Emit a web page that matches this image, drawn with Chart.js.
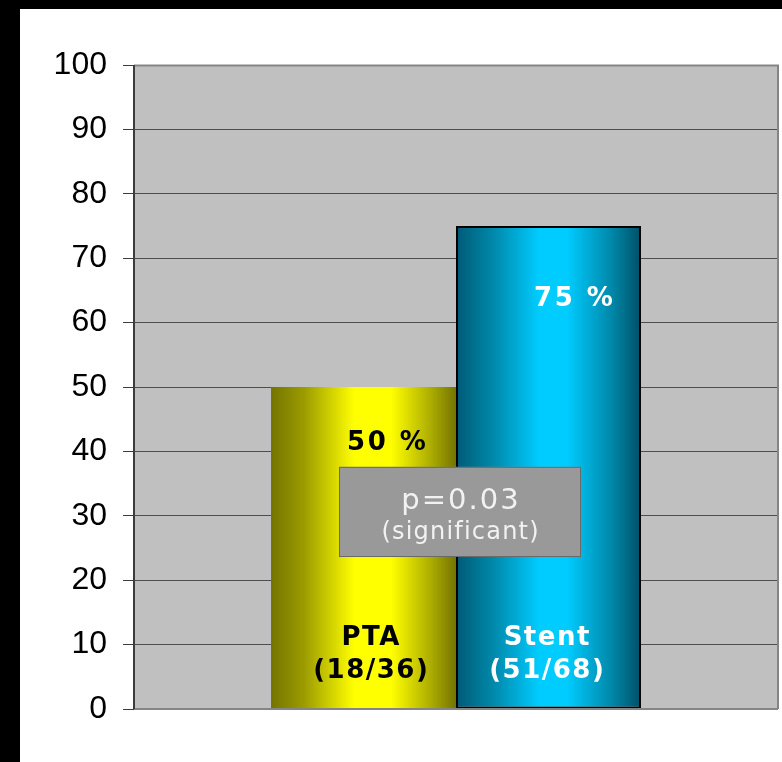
<!DOCTYPE html>
<html>
<head>
<meta charset="utf-8">
<style>
  html, body { margin: 0; padding: 0; background: #fff; }
  #wrap { width: 782px; height: 762px; position: relative; }
</style>
<script src="https://cdn.jsdelivr.net/npm/chart.js@4/dist/chart.umd.min.js"></script>
</head>
<body>
<div id="wrap"><canvas id="c" width="782" height="762"></canvas></div>
<script>
// ---- data ----
const categories = [''];
const seriesNames = ['PTA', 'Stent'];
const ptaValues = [50];
const stentValues = [75];
const valueLabels = ['50 %', '75 %'];
const groupLabels = [['PTA', '(18/36)'], ['Stent', '(51/68)']];
const yMin = 0, yMax = 100, yStep = 10;
const pText = 'p=0.03';
const pNote = '(significant)';

// ---- helpers ----
function hGrad(ctx, x0, x1, stops) {
  const g = ctx.createLinearGradient(x0, 0, x1, 0);
  stops.forEach(s => g.addColorStop(s[0], s[1]));
  return g;
}
const ptaStops = [[0, '#747400'], [0.18, '#9c9c00'], [0.45, '#ffff00'], [0.65, '#ffff00'], [0.87, '#aaaa00'], [1, '#747400']];
const stentStops = [[0, '#005a75'], [0.2, '#0088aa'], [0.45, '#00ccff'], [0.6, '#00ccff'], [0.84, '#0088aa'], [1, '#004f66']];

function spacedText(ctx, text, x, y, spacing) {
  ctx.letterSpacing = spacing + 'px';
  ctx.fillText(text, x + spacing / 2, y);
  ctx.letterSpacing = '0px';
}

const decor = {
  id: 'decor',
  beforeDraw(chart) {
    const { ctx, chartArea: a } = chart;
    ctx.save();
    ctx.fillStyle = '#ffffff';
    ctx.fillRect(0, 0, chart.width, chart.height);
    ctx.fillStyle = '#000000';
    ctx.fillRect(0, 0, chart.width, 9);
    ctx.fillRect(0, 0, 20, chart.height);
    ctx.fillStyle = '#c0c0c0';
    ctx.fillRect(a.left, a.top, a.right - a.left, a.bottom - a.top);
    ctx.restore();
  },
  beforeDatasetsDraw(chart) {
    const stops = [ptaStops, stentStops];
    chart.data.datasets.forEach((ds, i) => {
      const meta = chart.getDatasetMeta(i);
      meta.data.forEach(el => {
        const x0 = el.x - el.width / 2, x1 = el.x + el.width / 2;
        el.options.backgroundColor = hGrad(chart.ctx, x0, x1, stops[i]);
      });
    });
  },
  afterDatasetsDraw(chart) {
    const { ctx, chartArea: a, scales: { y } } = chart;
    ctx.save();
    // frame top/right/bottom
    ctx.strokeStyle = '#858585';
    ctx.lineWidth = 2;
    ctx.beginPath();
    ctx.moveTo(a.left, a.top + 0.5);
    ctx.lineTo(a.right, a.top + 0.5);
    ctx.lineTo(a.right, a.bottom);
    ctx.stroke();
    ctx.beginPath();
    ctx.moveTo(a.left, a.bottom);
    ctx.lineTo(a.right, a.bottom);
    ctx.stroke();
    // left axis line
    ctx.strokeStyle = '#3c3c3c';
    ctx.lineWidth = 2;
    ctx.beginPath();
    ctx.moveTo(a.left, a.top);
    ctx.lineTo(a.left, a.bottom);
    ctx.stroke();

    const ptaEl = chart.getDatasetMeta(0).data[0];
    const stEl = chart.getDatasetMeta(1).data[0];
    ctx.textAlign = 'center';
    ctx.textBaseline = 'middle';
    ctx.font = 'bold 26px "DejaVu Sans"';
    // value labels
    ctx.fillStyle = '#000000';
    spacedText(ctx, valueLabels[0], ptaEl.x + 23, y.getPixelForValue(41.2), 2.5);
    ctx.fillStyle = '#ffffff';
    spacedText(ctx, valueLabels[1], stEl.x + 25, y.getPixelForValue(63.7), 2.5);
    // group labels
    ctx.fillStyle = '#000000';
    spacedText(ctx, groupLabels[0][0], ptaEl.x + 7, y.getPixelForValue(11.0), 1.5);
    spacedText(ctx, groupLabels[0][1], ptaEl.x + 7, y.getPixelForValue(5.8), 1.5);
    ctx.fillStyle = '#ffffff';
    spacedText(ctx, groupLabels[1][0], stEl.x - 2, y.getPixelForValue(11.0), 1.5);
    spacedText(ctx, groupLabels[1][1], stEl.x - 2, y.getPixelForValue(5.8), 1.5);

    // p-value box
    const cx = (ptaEl.x + stEl.x) / 2 + 4;
    const bTop = y.getPixelForValue(37.6), bBot = y.getPixelForValue(23.6);
    const bw = 242;
    ctx.fillStyle = '#999999';
    ctx.fillRect(cx - bw / 2, bTop, bw, bBot - bTop);
    ctx.strokeStyle = '#6a6a6a';
    ctx.lineWidth = 1;
    ctx.strokeRect(cx - bw / 2 + 0.5, bTop + 0.5, bw - 1, bBot - bTop - 1);
    ctx.fillStyle = '#f2f2f2';
    ctx.font = '29px "DejaVu Sans"';
    spacedText(ctx, pText, cx, y.getPixelForValue(32.2), 2);
    ctx.font = '24px "DejaVu Sans"';
    spacedText(ctx, pNote, cx, y.getPixelForValue(27.3), 1.2);
    ctx.restore();
  }
};

new Chart(document.getElementById('c'), {
  type: 'bar',
  data: {
    labels: categories,
    datasets: [
      { label: seriesNames[0], data: ptaValues, borderWidth: 0, categoryPercentage: 0.5745, barPercentage: 1 },
      { label: seriesNames[1], data: stentValues, borderWidth: 2, borderColor: '#000000', borderSkipped: false, categoryPercentage: 0.5745, barPercentage: 1 }
    ]
  },
  options: {
    responsive: false,
    animation: false,
    events: [],
    layout: { padding: { top: 65, right: 4, bottom: 53, left: 0 } },
    plugins: { legend: { display: false }, tooltip: { enabled: false } },
    scales: {
      x: { display: false },
      y: {
        min: yMin, max: yMax,
        afterFit(s) { s.width = 134; },
        ticks: {
          stepSize: yStep,
          color: '#000000',
          padding: 16,
          font: { family: '"Liberation Sans", Arial', size: 32 }
        },
        grid: {
          color: c => (c.tick && (c.tick.value === yMin || c.tick.value === yMax)) ? 'rgba(0,0,0,0)' : '#4e4e4e',
          lineWidth: 1,
          tickLength: 11,
          tickColor: '#3c3c3c'
        },
        border: { display: false }
      }
    }
  },
  plugins: [decor]
});
</script>
</body>
</html>
